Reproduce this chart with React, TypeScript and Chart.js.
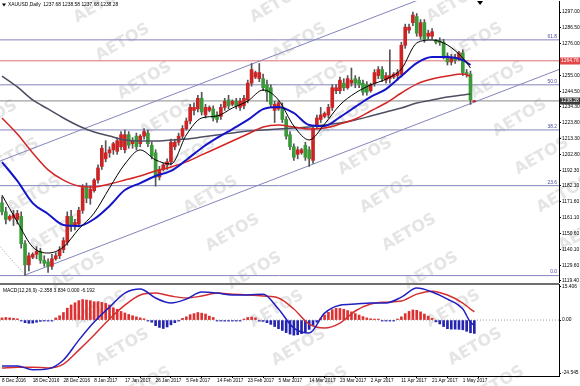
import React, { useEffect, useRef } from 'react';
import { Chart, registerables } from 'chart.js';

Chart.register(...registerables);

// ---------- DATA ----------
const barOpen = [1171,1165,1160,1161,1160,1162,1144,1130,1135,1137,1139,1133,1132,1129,1134,1136,1140,1145,1162,1156,1157,1166,1181,1174,1179,1186,1195,1200,1204,1206,1205,1208,1206,1216,1210,1215,1210,1215,1217,1209,1204,1188,1193,1196,1198,1208,1211,1215,1220,1225,1232,1233,1240,1229,1232,1233,1229,1228,1234,1239,1236,1238,1234,1235,1239,1250,1254,1253,1253,1249,1247,1232,1233,1234,1226,1216,1208,1203,1204,1209,1206,1199,1222,1226,1228,1229,1234,1245,1245,1250,1247,1250,1253,1252,1250,1249,1245,1250,1255,1259,1252,1253,1254,1255,1256,1275,1285,1290,1294,1281,1290,1281,1281,1278,1278,1277,1268,1264,1267,1266,1270,1257,1256,1237.68];
const barHigh = [1175,1168,1163,1166,1166,1165,1146,1138,1138,1142,1141,1136,1134,1137,1138,1142,1148,1165,1166,1160,1168,1183,1184,1182,1187,1196,1209,1212,1208,1211,1214,1218,1219,1218,1214,1217,1216,1220,1219,1211,1206,1195,1197,1200,1213,1213,1217,1222,1227,1236,1237,1242,1244,1236,1235,1235,1231,1236,1240,1242,1239,1240,1240,1242,1252,1263,1258,1263,1256,1252,1249,1238,1238,1237,1228,1218,1210,1208,1207,1211,1208,1222,1229,1234,1231,1236,1249,1249,1254,1253,1255,1260,1255,1254,1252,1251,1250,1259,1261,1261,1257,1272,1257,1259,1277,1289,1289,1297,1296,1292,1292,1285,1286,1279,1280,1279,1270,1269,1269,1271,1272,1259,1258,1238.58];
const barLow = [1163,1157,1159,1156,1157,1141,1123,1126,1134,1134,1131,1129,1125,1127,1133,1134,1138,1143,1152,1153,1155,1164,1171,1170,1178,1184,1193,1198,1201,1203,1203,1206,1204,1207,1207,1206,1208,1213,1208,1200,1182,1186,1192,1193,1196,1206,1209,1213,1219,1223,1229,1231,1229,1227,1231,1225,1224,1226,1232,1233,1235,1233,1232,1233,1237,1248,1253,1251,1245,1238,1234,1224,1232,1224,1213,1206,1199,1200,1203,1199,1195,1197,1220,1224,1227,1227,1232,1243,1243,1245,1246,1248,1247,1247,1242,1242,1244,1248,1253,1251,1250,1250,1253,1252,1254,1273,1283,1288,1281,1279,1277,1279,1279,1276,1275,1266,1262,1262,1263,1265,1255,1254,1236,1237.68];
const barClose = [1165,1160,1162,1163,1164,1144,1130,1136,1137,1139,1133,1131,1129,1134,1136,1140,1146,1162,1156,1158,1166,1181,1174,1180,1186,1194,1207,1204,1206,1210,1212,1216,1216,1209,1212,1208,1215,1218,1210,1202,1188,1193,1196,1198,1211,1211,1215,1220,1225,1234,1234,1240,1231,1234,1234,1227,1226,1234,1238,1235,1238,1235,1238,1240,1250,1259,1257,1257,1247,1244,1236,1236,1237,1226,1215,1208,1201,1206,1206,1201,1200,1220,1227,1229,1230,1234,1247,1247,1252,1247,1253,1252,1250,1249,1244,1244,1249,1257,1259,1253,1255,1255,1256,1257,1275,1287,1287,1295,1283,1290,1279,1283,1284,1277,1277,1268,1264,1267,1265,1270,1257,1256,1239,1238.28];

const maIndex = [0,4,8,12,16,20,24,28,32,36,40,44,48,52,56,60,64,68,72,76,80,84,88,92,96,100,104,108,112,116,120,122];
const maFast = [1176.1,1158.3,1141.8,1137.8,1141.8,1153.7,1164.2,1180.8,1196.6,1205.9,1199.3,1196.6,1215.8,1227.0,1228.3,1233.6,1238.2,1245.5,1238.9,1221.7,1212.5,1223.0,1235.6,1243.5,1248.8,1252.7,1259.3,1276.5,1278.5,1275.2,1266.6,1260.0];
const maMid = [1197.9,1185.4,1170.8,1163.6,1156.3,1155.7,1160.3,1168.9,1179.4,1184.0,1188.7,1192.0,1199.3,1207.2,1213.8,1219.7,1225.7,1232.9,1234.3,1230.3,1222.4,1221.7,1227.6,1234.3,1240.9,1246.1,1254.7,1263.3,1267.3,1267.3,1265.3,1262.0];
const maSlow = [1227.0,1216.4,1203.9,1192.7,1186.0,1182.1,1181.4,1183.4,1186.0,1188.7,1192.0,1194.6,1198.0,1202.6,1207.2,1211.8,1216.4,1221.0,1222.4,1221.0,1219.7,1220.4,1223.0,1226.3,1231.6,1236.9,1243.5,1249.4,1252.7,1254.7,1256.0,1254.7];
const maLong = [1254.7,1247.5,1238.9,1233.0,1227.0,1221.7,1217.7,1215.1,1212.5,1211.8,1211.8,1212.5,1213.1,1214.4,1215.8,1217.1,1218.4,1219.1,1219.7,1220.4,1221.0,1222.4,1223.7,1225.7,1228.3,1231.0,1233.6,1236.9,1238.9,1240.9,1242.2,1242.9];

const fibLevels = [1122.9, 1182.3, 1219.1, 1248.9, 1278.6];
const fibNames = ['0.0', '23.6', '38.2', '50.0', '61.8'];
const resistanceLevel = 1264.76;
const lastPrice = 1238.28;
const upperChannel = [[-1, 1198.1], [148, 1343.6]];
const lowerChannel = [[6, 1123.3], [148, 1261.9]];
const dottedTrend = [[-1, 1143.5], [6, 1123.3]];

const priceTicks = [1297.0, 1286.5, 1276.0, 1255.0, 1244.5, 1234.3, 1223.8, 1213.3, 1202.8, 1192.3, 1182.1, 1171.6, 1161.1, 1150.6, 1140.1, 1129.6, 1119.4];

const macdIndex = [0,4,8,12,16,20,24,28,32,36,40,44,48,52,56,60,64,68,72,76,80,84,88,92,96,100,104,108,112,116,120,122,123];
const macdMain = [-21.3,-21.3,-23.0,-22.6,-18.5,-9.3,-0.9,6.0,12.5,14.4,10.2,7.9,9.7,13.0,12.5,11.6,11.6,12.0,5.1,-3.7,-6.0,3.2,6.9,7.4,7.9,7.9,10.6,14.8,13.0,9.7,5.1,-1.0,-2.358];
const macdSignal = [-22.2,-21.8,-21.8,-22.2,-20.4,-13.9,-6.9,0.5,6.9,11.6,12.5,11.1,10.2,11.1,12.5,12.0,11.6,11.1,10.2,5.1,-1.9,-3.7,-1.4,4.2,7.4,8.3,8.8,12.0,13.4,11.6,7.9,5.1,3.834];
const macdHist = [1.0,1.2,1.0,0.8,0.6,-0.3,-1.2,-1.5,-1.4,-1.0,-0.6,-0.4,-0.3,-0.2,1.0,2.0,3.5,5.5,7.0,8.0,9.0,9.5,9.3,9.0,8.5,8.5,8.2,7.7,7.0,5.7,5.0,4.0,3.3,2.6,2.0,1.5,1.0,0.6,-0.3,-1.0,-2.6,-3.4,-3.9,-3.2,-2.2,-1.2,-0.3,0.8,1.5,2.5,3.0,3.5,3.2,2.8,1.8,1.2,-0.3,-0.4,-0.5,-0.5,-0.4,-0.3,-0.2,0.5,1.2,1.4,1.0,-0.3,-0.6,-1.2,-2.0,-3.0,-4.0,-4.8,-5.8,-6.5,-7.0,-6.8,-6.3,-5.5,-4.3,-2.5,-1.0,0.8,2.3,3.6,4.8,5.4,5.4,5.0,4.4,3.8,3.0,2.3,1.6,1.0,0.6,0.3,0.2,-0.2,-0.3,-0.2,-0.1,0.5,1.5,3.0,4.0,4.7,4.5,3.8,2.8,1.8,0.8,-0.8,-1.8,-3.0,-4.0,-4.2,-4.2,-4.3,-4.5,-5.2,-5.9,-6.192];
const macdTicks = [15.406, 0, -24.545];
const macdTickLabels = ['15.406', '0.00', '-24.545'];

const dateTickIndex = [0,8,16,24,32,40,48,56,64,72,80,88,96,104,112,120];
const dateLabels = ['8 Dec 2016','18 Dec 2016','28 Dec 2016','8 Jan 2017','17 Jan 2017','26 Jan 2017','5 Feb 2017','14 Feb 2017','23 Feb 2017','5 Mar 2017','14 Mar 2017','23 Mar 2017','2 Apr 2017','11 Apr 2017','21 Apr 2017','1 May 2017'];

const titleText = 'XAUUSD,Daily  1237.68 1238.58 1237.68 1238.28';
const macdTitle = 'MACD(12,26,9) -2.358 3.834 0.000 -6.192';

// ---------- STYLE ----------
const XMIN = -0.52;
const XMAX = 145.05;
const FONT = "'Liberation Sans', Arial, sans-serif";
const WM_FONT = "'DejaVu Sans', sans-serif";
const UP = '#cc2424';
const DOWN = '#3a9a3a';
const FIB = '#8484bc';
const AXIS_W = 21;
const MAIN_H = 287;
const MACD_TOP = 283;
const MACD_H = 103;
const SMALL = 4.9;

// watermark lattice in rotated coordinates
const WATERMARKS: number[][] = [];
{
  const c = Math.cos(Math.PI / 6);
  const s = Math.sin(Math.PI / 6);
  for (let u = 85 - 153 * 3; u <= 800; u += 153) {
    for (let v = 10 - 44 * 8; v <= 800; v += 44) {
      const x = c * u + s * v;
      const y = -s * u + c * v;
      if (x > -60 && x < 640 && y > -30 && y < 420) WATERMARKS.push([x, y]);
    }
  }
}

function drawWatermarks(ctx: CanvasRenderingContext2D, offY: number, h: number) {
  ctx.save();
  ctx.beginPath();
  ctx.rect(0, 0, 580, h);
  ctx.clip();
  ctx.font = `bold 16px ${WM_FONT}`;
  ctx.fillStyle = '#e5e5e5';
  ctx.textAlign = 'center';
  ctx.textBaseline = 'middle';
  for (const [x, y] of WATERMARKS) {
    ctx.save();
    ctx.translate(x, y - offY);
    ctx.rotate(-Math.PI / 6);
    ctx.fillText('AETOS', 0, 0);
    ctx.restore();
  }
  ctx.restore();
}

const idx = barClose.map((_, i) => i);
const pts = (xs: number[], ys: number[]) => xs.map((x, i) => ({ x, y: ys[i] }));
const hline = (v: number) => [{ x: XMIN, y: v }, { x: XMAX, y: v }];
const seg = (s: number[][]) => s.map(([x, y]) => ({ x, y }));

const lineDs = (data: any[], color: string, width: number, order: number, extra: any = {}) => ({
  type: 'line', data, borderColor: color, borderWidth: width, pointRadius: 0,
  fill: false, order, tension: 0, ...extra,
});

const mainPlugin = {
  id: 'mainDeco',
  beforeDraw(chart: any) {
    const ctx = chart.ctx;
    ctx.save();
    ctx.fillStyle = '#ffffff';
    ctx.fillRect(0, 0, 580, 283);
    ctx.restore();
    drawWatermarks(ctx, 0, 283);
  },
  afterDraw(chart: any) {
    const ctx = chart.ctx;
    const y = chart.scales.y;
    const x = chart.scales.x;
    const area = chart.chartArea;
    ctx.save();
    ctx.font = `${SMALL}px ${FONT}`;
    // fib labels
    ctx.fillStyle = '#4a4aa0';
    ctx.textAlign = 'right';
    ctx.textBaseline = 'bottom';
    fibLevels.forEach((v, i) => {
      ctx.fillText(fibNames[i], area.right - 2, y.getPixelForValue(v) - 1);
    });
    // price boxes
    ctx.textAlign = 'left';
    ctx.textBaseline = 'middle';
    const box = (v: number, bg: string, label: string) => {
      const py = Math.round(y.getPixelForValue(v));
      ctx.fillStyle = bg;
      ctx.fillRect(area.right + 1, py - 3.5, 580 - area.right - 1, 7);
      ctx.fillStyle = '#ffffff';
      ctx.fillText(label, area.right + 2, py);
    };
    box(resistanceLevel, '#e04848', resistanceLevel.toFixed(2));
    box(lastPrice, '#3c3c3c', lastPrice.toFixed(2));
    // title
    ctx.fillStyle = '#000';
    ctx.fillText(titleText, 8, 5);
    ctx.beginPath();
    ctx.moveTo(2, 3.5);
    ctx.lineTo(6, 3.5);
    ctx.lineTo(4, 6.5);
    ctx.closePath();
    ctx.fill();
    // chart shift marker
    const sx = x.getPixelForValue(barClose.length + 0.5);
    ctx.beginPath();
    ctx.moveTo(sx - 3, area.top);
    ctx.lineTo(sx + 3, area.top);
    ctx.lineTo(sx, area.top + 4);
    ctx.closePath();
    ctx.fill();
    ctx.restore();
  },
};

const macdPlugin = {
  id: 'macdDeco',
  beforeDraw(chart: any) {
    const ctx = chart.ctx;
    ctx.save();
    ctx.fillStyle = '#ffffff';
    ctx.fillRect(0, 0, 580, MACD_H);
    ctx.restore();
    drawWatermarks(ctx, MACD_TOP, MACD_H);
  },
  afterDraw(chart: any) {
    const ctx = chart.ctx;
    const area = chart.chartArea;
    ctx.save();
    ctx.fillStyle = '#6e6e6e';
    ctx.fillRect(0, 0, area.right, 2);
    ctx.font = `${SMALL}px ${FONT}`;
    ctx.fillStyle = '#000';
    ctx.textAlign = 'left';
    ctx.textBaseline = 'middle';
    ctx.fillText(macdTitle, 3, 7.5);
    ctx.restore();
  },
};

export default function App() {
  const mainRef = useRef<HTMLCanvasElement>(null);
  const macdRef = useRef<HTMLCanvasElement>(null);

  useEffect(() => {
    const mainCfg: any = {
      type: 'bar',
      data: {
        datasets: [
          ...fibLevels.map((v) => lineDs(hline(v), FIB, 1, 20)),
          lineDs(hline(resistanceLevel), '#dc7070', 1, 19),
          lineDs(hline(lastPrice), '#8a8a8a', 1, 19),
          lineDs(seg(upperChannel), FIB, 1, 18),
          lineDs(seg(lowerChannel), FIB, 1, 18),
          lineDs(seg(dottedTrend), '#999999', 1, 18, { borderDash: [1, 2] }),
          {
            type: 'bar', data: idx.map((i) => ({ x: i, y: [barLow[i], barHigh[i]] })),
            backgroundColor: '#555555', barThickness: 1, grouped: false, order: 12,
          },
          {
            type: 'bar', data: idx.map((i) => ({ x: i, y: [barOpen[i], barClose[i]] })),
            backgroundColor: idx.map((i) => (barClose[i] >= barOpen[i] ? UP : DOWN)),
            barThickness: 3, minBarLength: 1, grouped: false, order: 11,
          },
          lineDs(pts(maIndex, maLong), '#4e4e62', 1.5, 4, { cubicInterpolationMode: 'monotone' }),
          lineDs(pts(maIndex, maSlow), '#d42424', 1.5, 3, { cubicInterpolationMode: 'monotone' }),
          lineDs(pts(maIndex, maMid), '#1414c8', 2, 2, { cubicInterpolationMode: 'monotone' }),
          lineDs(pts(maIndex, maFast), '#000000', 1, 1, { cubicInterpolationMode: 'monotone' }),
        ],
      },
      options: {
        responsive: false,
        animation: false,
        events: [],
        layout: { padding: { top: 1, bottom: MAIN_H - 282, left: 0, right: 0 } },
        plugins: { legend: { display: false }, tooltip: { enabled: false } },
        scales: {
          x: { type: 'linear', min: XMIN, max: XMAX, display: false, offset: false },
          y: {
            type: 'linear', position: 'right', min: 1118.67, max: 1304.27,
            afterBuildTicks: (s: any) => { s.ticks = priceTicks.map((v) => ({ value: v })); },
            afterFit: (s: any) => { s.width = AXIS_W; s.paddingTop = 0; s.paddingBottom = 0; },
            ticks: {
              autoSkip: false, padding: 1, color: '#000',
              font: { size: SMALL, family: FONT },
              callback: (v: any) => Number(v).toFixed(2),
            },
            grid: { drawOnChartArea: false, drawTicks: true, tickLength: 2, color: '#000' },
            border: { display: true, color: '#000', width: 1 },
          },
        },
      },
      plugins: [mainPlugin],
    };

    const macdCfg: any = {
      type: 'bar',
      data: {
        datasets: [
          lineDs(hline(0), '#9a9a9a', 1, 10, { borderDash: [1, 2] }),
          {
            type: 'bar', data: idx.map((i) => ({ x: i, y: macdHist[i] })),
            backgroundColor: idx.map((i) => (macdHist[i] >= 0 ? '#dd3030' : '#2424b0')),
            barThickness: 2, minBarLength: 1, grouped: false, order: 5,
          },
          lineDs(pts(macdIndex, macdSignal), '#d43030', 1.5, 2, { cubicInterpolationMode: 'monotone' }),
          lineDs(pts(macdIndex, macdMain), '#2020c0', 1.5, 1, { cubicInterpolationMode: 'monotone' }),
        ],
      },
      options: {
        responsive: false,
        animation: false,
        events: [],
        layout: { padding: { top: 1, bottom: 0, left: 0, right: 0 } },
        plugins: { legend: { display: false }, tooltip: { enabled: false } },
        scales: {
          x: {
            type: 'linear', min: XMIN, max: XMAX, offset: false,
            afterBuildTicks: (s: any) => { s.ticks = dateTickIndex.map((v) => ({ value: v })); },
            afterFit: (s: any) => { s.height = 10; s.paddingLeft = 0; s.paddingRight = 0; },
            ticks: {
              autoSkip: false, maxRotation: 0, align: 'start', padding: 0, color: '#000',
              font: { size: 4.7, family: FONT },
              callback: (v: any) => dateLabels[dateTickIndex.indexOf(Number(v))],
            },
            grid: { drawOnChartArea: false, drawTicks: true, tickLength: 2, color: '#000' },
            border: { display: true, color: '#000', width: 1 },
          },
          y: {
            type: 'linear', position: 'right', min: -25.9, max: 16.7,
            afterBuildTicks: (s: any) => { s.ticks = macdTicks.map((v) => ({ value: v })); },
            afterFit: (s: any) => { s.width = AXIS_W; s.paddingTop = 0; s.paddingBottom = 0; },
            ticks: {
              autoSkip: false, padding: 1, color: '#000',
              font: { size: SMALL, family: FONT },
              callback: (v: any) => macdTickLabels[macdTicks.indexOf(Number(v))],
            },
            grid: { drawOnChartArea: false, drawTicks: true, tickLength: 2, color: '#000' },
            border: { display: true, color: '#000', width: 1 },
          },
        },
      },
      plugins: [macdPlugin],
    };

    const c1 = new Chart(mainRef.current as HTMLCanvasElement, mainCfg);
    const c2 = new Chart(macdRef.current as HTMLCanvasElement, macdCfg);
    return () => { c1.destroy(); c2.destroy(); };
  }, []);

  return (
    <div style={{ position: 'fixed', left: 0, top: 0, width: 580, height: 386, background: '#fff', overflow: 'hidden' }}>
      <div style={{ position: 'absolute', left: 0, top: MACD_TOP, width: 580, height: MACD_H }}>
        <canvas ref={macdRef} width={580} height={MACD_H} style={{ width: 580, height: MACD_H, display: 'block' }} />
      </div>
      <div style={{ position: 'absolute', left: 0, top: 0, width: 580, height: MAIN_H, zIndex: 2, pointerEvents: 'none' }}>
        <canvas ref={mainRef} width={580} height={MAIN_H} style={{ width: 580, height: MAIN_H, display: 'block' }} />
      </div>
    </div>
  );
}
